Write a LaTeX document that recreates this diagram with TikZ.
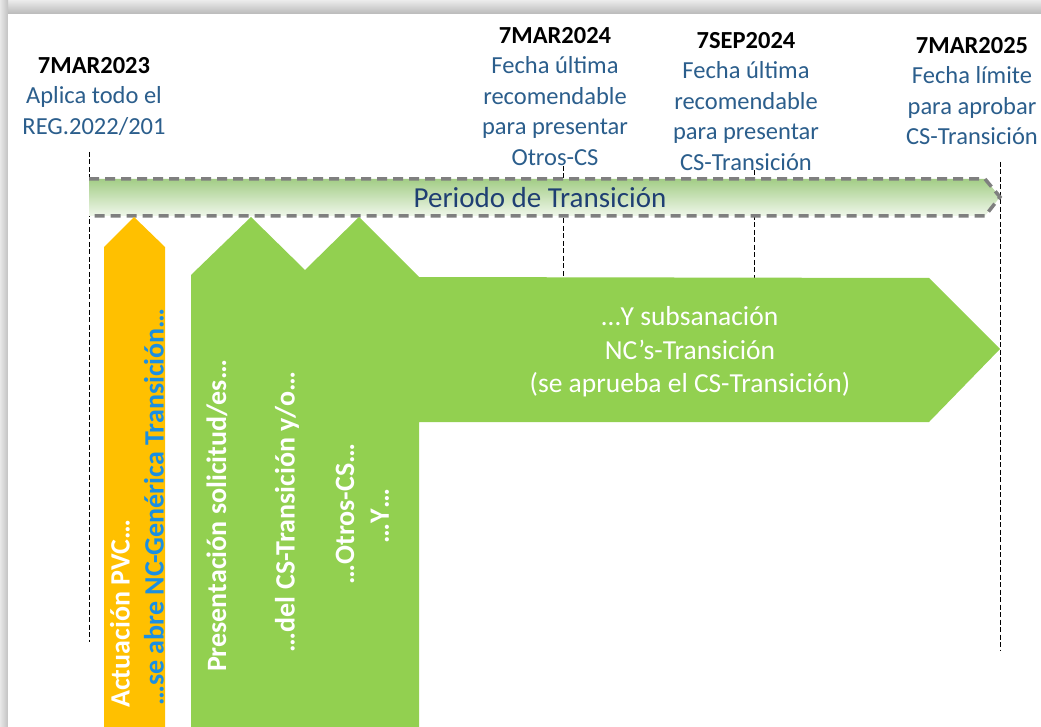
\documentclass[tikz,border=0pt]{standalone}
\usepackage{fontspec}
\setmainfont{Carlito}
\definecolor{orng}{HTML}{FFC000}
\definecolor{grn}{HTML}{92D050}
\definecolor{lblue}{HTML}{2B5E8C}
\definecolor{navy}{HTML}{1F3F73}
\definecolor{vblue}{HTML}{1A8FE3}
\definecolor{bantop}{HTML}{A3CD86}
\definecolor{banbot}{HTML}{F0F7EB}
\definecolor{dgray}{HTML}{7F7F7F}
\begin{document}
\begin{tikzpicture}[x=1pt,y=-1pt,
  vline/.style={black,line width=1pt,dash pattern=on 5pt off 2.5pt},
  toplabel/.style={align=center,anchor=north,inner sep=0pt,text=lblue,
    font=\fontsize{24.5}{30.5}\selectfont},
  vbold/.style={rotate=90,inner sep=0pt,text=white,font=\fontsize{28}{32}\selectfont\bfseries}]
\useasboundingbox (0,0) rectangle (1041,727);
% frame
\fill[white] (0,0) rectangle (1041,727);
\shade[top color=gray!15,bottom color=gray!55] (0,0) rectangle (1041,14);
\shade[left color=gray!18,right color=gray!48] (0,0) rectangle (8,727);
\fill[white] (8,14) rectangle (1041,727);

% dashed vertical guide lines
\coordinate (a1) at (89,152);   \coordinate (a2) at (89,642);
\coordinate (b1) at (563,166);  \coordinate (b2) at (563,279);
\coordinate (c1) at (754,170);  \coordinate (c2) at (754,279);
\coordinate (d1) at (1000,162); \coordinate (d2) at (1000,650);
\draw[vline] (a1) -- (a2);
\draw[vline] (b1) -- (b2);
\draw[vline] (c1) -- (c2);
\draw[vline] (d1) -- (d2);

% banner
\shade[top color=bantop,bottom color=banbot]
  (89,179) -- (985,179) -- (1000,197) -- (985,216) -- (89,216) -- cycle;
\draw[dgray,line width=3.5pt,dash pattern=on 10pt off 6pt]
  (89,179) -- (985,179) -- (1000,197) -- (985,216) -- (89,216);
\node[text=navy,font=\fontsize{29}{32}\selectfont] (banner) at (540,198) {Periodo de Transición};

% orange arrow
\fill[orng] (104,727) -- (104,247) -- (134,217) -- (165,247) -- (165,727) -- cycle;
\node[vbold,anchor=west] (o1) at (120,708) {Actuación PVC…};
\node[vbold,anchor=west,text=vblue] (o2) at (154,706) {…se abre NC-Genérica Transición…};

% green shape
\fill[grn] (191,727) -- (191,275) -- (251,217) -- (305,270) -- (359,217) -- (419,277)
  -- (929,278) -- (1000,349) -- (929,422) -- (419,422) -- (419,727) -- cycle;
\node[vbold] (g1) at (217,516) {Presentación solicitud/es…};
\node[vbold] (g2) at (287,512) {…del CS-Transición y/o…};
\node[vbold] (g3) at (345,514) {…Otros-CS…};
\node[vbold] (g4) at (380,516) {…Y…};
\node[align=center,text=white,font=\fontsize{27.5}{33.5}\selectfont] (sub) at (690,352)
  {…Y subsanación\\NC’s-Transición\\(se aprueba el CS-Transición)};

% top labels
\node[toplabel] (t1) at (94,57) {\textcolor{black}{\bfseries 7MAR2023}\\Aplica todo el\\REG.2022/201};
\node[toplabel] (t2) at (555,27) {\textcolor{black}{\bfseries 7MAR2024}\\Fecha última\\recomendable\\para presentar\\Otros-CS};
\node[toplabel] (t3) at (746,32) {\textcolor{black}{\bfseries 7SEP2024}\\Fecha última\\recomendable\\para presentar\\CS-Transición};
\node[toplabel] (t4) at (972,37) {\textcolor{black}{\bfseries 7MAR2025}\\Fecha límite\\para aprobar\\CS-Transición};
\end{tikzpicture}
\end{document}
